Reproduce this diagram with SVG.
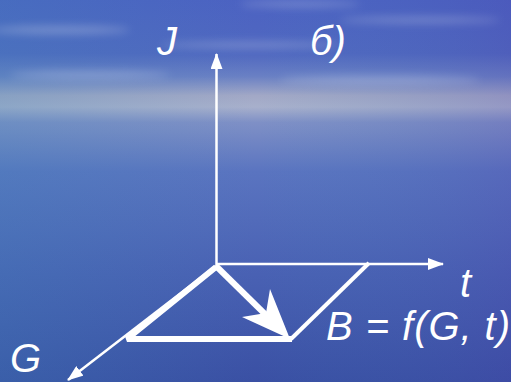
<svg xmlns="http://www.w3.org/2000/svg" width="511" height="382" viewBox="0 0 511 382">
  <defs>
    <linearGradient id="sky" x1="0" y1="0" x2="0" y2="1">
      <stop offset="0" stop-color="#4c62c2"/>
      <stop offset="0.14" stop-color="#5068c0"/>
      <stop offset="0.2" stop-color="#6a80c4"/>
      <stop offset="0.25" stop-color="#a2a8c6"/>
      <stop offset="0.28" stop-color="#a8b0cc"/>
      <stop offset="0.32" stop-color="#7f90c6"/>
      <stop offset="0.45" stop-color="#5a74c0"/>
      <stop offset="0.7" stop-color="#4a62b4"/>
      <stop offset="1" stop-color="#3a50a4"/>
    </linearGradient>
    <linearGradient id="tint" x1="0" y1="0" x2="1" y2="0">
      <stop offset="0" stop-color="#3a8ab8" stop-opacity="0.25"/>
      <stop offset="0.5" stop-color="#3a8ab8" stop-opacity="0"/>
      <stop offset="1" stop-color="#4a3aa8" stop-opacity="0.2"/>
    </linearGradient>
    <filter id="blur" x="-20%" y="-200%" width="140%" height="500%">
      <feGaussianBlur stdDeviation="4"/>
    </filter>
    <marker id="ah" viewBox="0 0 16 12" refX="15" refY="6" markerWidth="16" markerHeight="12" markerUnits="userSpaceOnUse" orient="auto">
      <path d="M0,0 L16,6 L0,12 Z" fill="#fff"/>
    </marker>
  </defs>
  <style>
    .lbl { font-family: "Liberation Sans", Arial, sans-serif; font-style: italic; font-size: 40px; fill: #fff; }
    .axis { stroke: #fff; stroke-width: 2.5; fill: none; }
    .thick { stroke: #fff; stroke-width: 6; fill: none; stroke-linejoin: bevel; }
    .thin { stroke: #fff; stroke-width: 4; fill: none; }
  </style>
  <rect width="511" height="382" fill="url(#sky)"/>
  <rect width="511" height="382" fill="url(#tint)"/>
  <g filter="url(#blur)" fill="#c8d0e8" opacity="0.35">
    <ellipse cx="60" cy="30" rx="70" ry="4"/>
    <ellipse cx="250" cy="45" rx="90" ry="3"/>
    <ellipse cx="420" cy="20" rx="80" ry="3"/>
    <ellipse cx="90" cy="75" rx="80" ry="4"/>
    <ellipse cx="380" cy="80" rx="100" ry="4"/>
    <ellipse cx="300" cy="4" rx="60" ry="3"/>
  </g>

  <g id="connectors">
    <line id="axis-J" class="axis" x1="216.5" y1="266" x2="216.5" y2="54" marker-end="url(#ah)"/>
    <line id="axis-t" class="axis" x1="216" y1="264" x2="443" y2="264" marker-end="url(#ah)"/>
    <line id="axis-G" class="axis" x1="216" y1="266" x2="68" y2="380" marker-end="url(#ah)"/>
  </g>

  <g id="parallelogram">
    <polyline class="thick" points="216,267 127,339 292,339"/>
    <line class="thin" x1="291" y1="339" x2="369" y2="263"/>
  </g>

  <g id="vector-B">
    <line class="thick" x1="216" y1="266" x2="270" y2="319"/>
    <polygon points="290,339 270,289 266,313 242,317" fill="#fff"/>
  </g>

  <g id="label-J"><text class="lbl" x="157" y="55">J</text></g>
  <g id="label-b"><text class="lbl" x="310" y="55">б)</text></g>
  <g id="label-t"><text class="lbl" x="460" y="297">t</text></g>
  <g id="label-G"><text class="lbl" x="10" y="372">G</text></g>
  <g id="label-B"><text class="lbl" x="326" y="340" textLength="184" lengthAdjust="spacing">B = f(G, t)</text></g>
</svg>
